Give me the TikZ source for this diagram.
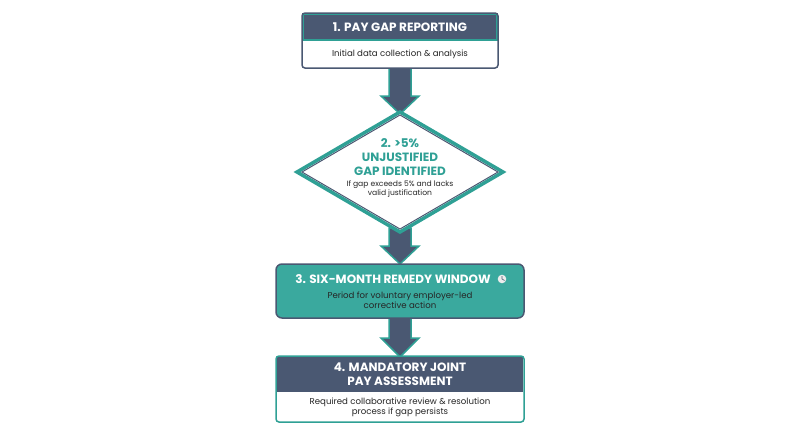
\documentclass[tikz,border=0pt]{standalone}
\usepackage{fontspec}
\setmainfont{Poppins}
\begin{document}
\definecolor{slate}{HTML}{4A5872}
\definecolor{teal}{HTML}{2FA095}
\definecolor{tealfill}{HTML}{3AA99E}
\begin{tikzpicture}[x=1pt,y=-1pt,
  hdr/.style={font=\bfseries\fontsize{12}{13.5}\selectfont,text=white,align=center},
  body/.style={font=\fontsize{8.6}{10}\selectfont,text=black!85,align=center},
  arr/.style={fill=slate,draw=teal,line width=1.5pt,line join=miter}]
\useasboundingbox (0,0) rectangle (800,447);
% arrows
\newcommand\myarrow[3]{\draw[arr] (389,#1)--(411,#1)--(411,#2)--(419,#2)--(400,#3)--(381,#2)--(389,#2)--cycle;}
\myarrow{66}{96}{114}
\myarrow{228}{246}{264}
\myarrow{316}{338}{357}
% box 1
\fill[white,rounded corners=3pt] (302,13) rectangle (498,68);
\fill[slate] (303,14) rectangle (497,40);
\draw[teal,line width=1.5pt] (303,14) rectangle (497,40);
\draw[slate,line width=1.5pt,rounded corners=3pt] (302,13) rectangle (498,68);
\node[hdr] (h1) at (400,27) {1. PAY GAP REPORTING};
\node[body] (b1) at (400,54) {Initial data collection \& analysis};
% diamond
\draw[fill=white,draw=teal,line width=3.5pt,line join=miter] (400,112)--(503,172)--(400,232)--(297,172)--cycle;
\draw[draw=slate,line width=1pt,line join=miter] (400,115)--(498,172)--(400,229)--(302,172)--cycle;
\node[font=\bfseries\fontsize{12}{14}\selectfont,text=teal,align=center] (h2) at (400,157) {2. >5\%\\UNJUSTIFIED\\GAP IDENTIFIED};
\node[body,font=\fontsize{7.6}{9.5}\selectfont] (b2) at (400,189) {If gap exceeds 5\% and lacks\\valid justification};
% box 3
\draw[fill=tealfill,draw=slate,line width=1.5pt,rounded corners=6pt] (276,264) rectangle (524,318);
\node[hdr] (h3) at (393,279) {3. SIX-MONTH REMEDY WINDOW};
\fill[white!85!gray] (502,279) circle (4.3pt);
\draw[slate,line width=0.6pt] (502,276)--(502,279)--(504.5,280.5);
\node[body] (b3) at (400,300) {Period for voluntary employer-led\\corrective action};
% box 4
\fill[white,rounded corners=3pt] (276,356) rectangle (524,422);
\fill[slate] (277,357) rectangle (523,392);
\draw[teal,line width=1.5pt,rounded corners=3pt] (276,356) rectangle (524,422);
\node[hdr] (h4) at (400,374) {4. MANDATORY JOINT\\PAY ASSESSMENT};
\node[body] (b4) at (400,407) {Required collaborative review \& resolution\\process if gap persists};
\end{tikzpicture}
\end{document}
